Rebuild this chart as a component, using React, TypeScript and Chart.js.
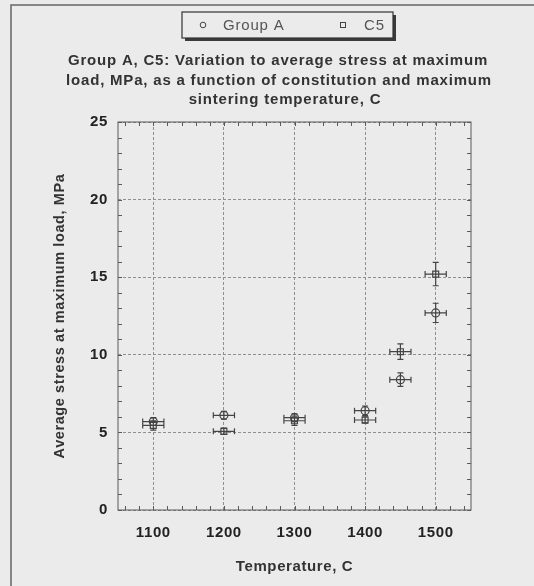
import React, { useEffect, useRef } from "react";
import { Chart, registerables } from "chart.js";

Chart.register(...registerables);

const temperatures = [1100, 1200, 1300, 1400, 1450, 1500];
const groupAStress = [5.7, 6.1, 5.95, 6.4, 8.4, 12.7];
const groupAError = [0.25, 0.25, 0.25, 0.3, 0.43, 0.62];
const c5Stress = [5.45, 5.07, 5.75, 5.8, 10.2, 15.2];
const c5Error = [0.3, 0.2, 0.3, 0.2, 0.5, 0.75];
const temperatureError = 15;
const xTickValues = [1100, 1200, 1300, 1400, 1500];
const yTickValues = [0, 5, 10, 15, 20, 25];
const seriesNames = ["Group A", "C5"];
const titleLines = [
  "Group A, C5: Variation to average stress at maximum",
  "load, MPa, as a function of constitution and maximum",
  "sintering temperature, C",
];
const xTitle = "Temperature, C";
const yTitle = "Average stress at maximum load, MPa";

const BG = "#ebebeb";
const INK = "#444444";
const FONT = '"Liberation Sans", Arial, sans-serif';

const errorsByDataset = [groupAError, c5Error];

const decorPlugin = {
  id: "decor",
  beforeDraw(chart: any) {
    const ctx = chart.ctx as CanvasRenderingContext2D;
    (ctx as any).letterSpacing = "0.6px";
    ctx.save();
    ctx.fillStyle = BG;
    ctx.fillRect(0, 0, chart.width, chart.height);
    // outer frame
    ctx.strokeStyle = "#666";
    ctx.lineWidth = 1.5;
    ctx.beginPath();
    ctx.moveTo(11, chart.height);
    ctx.lineTo(11, 5);
    ctx.lineTo(chart.width, 5);
    ctx.stroke();
    // legend box with shadow
    ctx.fillStyle = "#3a3a3a";
    ctx.fillRect(185, 15, 211, 26);
    ctx.fillStyle = BG;
    ctx.fillRect(182, 12, 211, 26);
    ctx.strokeStyle = "#333";
    ctx.lineWidth = 1.2;
    ctx.strokeRect(182, 12, 211, 26);
    // legend items
    ctx.strokeStyle = INK;
    ctx.lineWidth = 1;
    ctx.beginPath();
    ctx.arc(203, 25, 2.8, 0, Math.PI * 2);
    ctx.stroke();
    ctx.strokeRect(340.5, 22.5, 5, 5);
    ctx.fillStyle = "#555";
    (ctx as any).letterSpacing = "0.8px";
    ctx.font = `15px ${FONT}`;
    ctx.textAlign = "left";
    ctx.textBaseline = "middle";
    ctx.fillText(seriesNames[0], 223, 26);
    ctx.fillText(seriesNames[1], 364, 26);
    // title
    ctx.font = `bold 15px ${FONT}`;
    ctx.fillStyle = "#333";
    ctx.textAlign = "center";
    const cx = [278, 279, 285];
    titleLines.forEach((line, i) => {
      ctx.fillText(line, cx[i], 61 + i * 19.6);
    });
    ctx.restore();
  },
  beforeDatasetsDraw(chart: any) {
    const ctx = chart.ctx as CanvasRenderingContext2D;
    const a = chart.chartArea;
    const xs = chart.scales.x;
    const ys = chart.scales.y;
    ctx.save();
    ctx.strokeStyle = "#5a5a5a";
    ctx.lineWidth = 1;
    ctx.strokeRect(a.left, a.top, a.right - a.left, a.bottom - a.top);
    ctx.beginPath();
    const tl = 4;
    for (let v = Math.ceil(xs.min / 20) * 20; v <= xs.max; v += 20) {
      const px = Math.round(xs.getPixelForValue(v)) + 0.5;
      ctx.moveTo(px, a.bottom);
      ctx.lineTo(px, a.bottom - tl);
      ctx.moveTo(px, a.top);
      ctx.lineTo(px, a.top + tl);
    }
    for (let v = Math.ceil(ys.min); v <= ys.max; v += 1) {
      const py = Math.round(ys.getPixelForValue(v)) + 0.5;
      ctx.moveTo(a.left, py);
      ctx.lineTo(a.left + tl, py);
      ctx.moveTo(a.right, py);
      ctx.lineTo(a.right - tl, py);
    }
    ctx.stroke();
    // error bars
    ctx.strokeStyle = INK;
    ctx.lineWidth = 1.2;
    ctx.beginPath();
    const cap = 3;
    chart.data.datasets.forEach((ds: any, di: number) => {
      const errs = errorsByDataset[di];
      ds.data.forEach((p: any, i: number) => {
        const px = xs.getPixelForValue(p.x);
        const py = ys.getPixelForValue(p.y);
        const x1 = xs.getPixelForValue(p.x - temperatureError);
        const x2 = xs.getPixelForValue(p.x + temperatureError);
        const y1 = ys.getPixelForValue(p.y - errs[i]);
        const y2 = ys.getPixelForValue(p.y + errs[i]);
        ctx.moveTo(x1, py);
        ctx.lineTo(x2, py);
        ctx.moveTo(x1, py - cap);
        ctx.lineTo(x1, py + cap);
        ctx.moveTo(x2, py - cap);
        ctx.lineTo(x2, py + cap);
        ctx.moveTo(px, y1);
        ctx.lineTo(px, y2);
        ctx.moveTo(px - cap, y1);
        ctx.lineTo(px + cap, y1);
        ctx.moveTo(px - cap, y2);
        ctx.lineTo(px + cap, y2);
      });
    });
    ctx.stroke();
    ctx.restore();
  },
};

export default function App() {
  const ref = useRef<HTMLCanvasElement | null>(null);
  useEffect(() => {
    if (!ref.current) return;
    const chart = new Chart(ref.current, {
      type: "scatter",
      data: {
        datasets: [
          {
            label: seriesNames[0],
            data: temperatures.map((t, i) => ({ x: t, y: groupAStress[i] })),
            pointStyle: "circle",
            pointRadius: 4,
            borderColor: INK,
            backgroundColor: "rgba(0,0,0,0)",
            borderWidth: 1.2,
          },
          {
            label: seriesNames[1],
            data: temperatures.map((t, i) => ({ x: t, y: c5Stress[i] })),
            pointStyle: "rect",
            pointRadius: 4.2,
            borderColor: INK,
            backgroundColor: "rgba(0,0,0,0)",
            borderWidth: 1.2,
          },
        ],
      },
      options: {
        animation: false,
        responsive: false,
        devicePixelRatio: 1,
        layout: { padding: { top: 122, right: 63, left: 0, bottom: 0 } },
        plugins: {
          legend: { display: false },
          title: { display: false },
          tooltip: { enabled: false },
        },
        scales: {
          x: {
            type: "linear",
            min: 1050,
            max: 1550,
            afterBuildTicks: (s: any) => {
              s.ticks = xTickValues.map((v) => ({ value: v }));
            },
            afterFit: (s: any) => {
              s.height = 76;
            },
            ticks: {
              font: { family: FONT, size: 15, weight: "bold" },
              color: "#222",
              padding: 14,
              maxRotation: 0,
              callback: (v: any) => String(v),
            },
            grid: { color: "#8f8f8f", lineWidth: 1, drawTicks: false },
            border: { display: false, dash: [3, 2] },
            title: {
              display: true,
              text: xTitle,
              font: { family: FONT, size: 15, weight: "bold" },
              color: "#333",
              padding: { top: 0, bottom: 10 },
            },
          },
          y: {
            type: "linear",
            min: 0,
            max: 25,
            afterBuildTicks: (s: any) => {
              s.ticks = yTickValues.map((v) => ({ value: v }));
            },
            afterFit: (s: any) => {
              s.width = 118;
            },
            ticks: {
              font: { family: FONT, size: 15, weight: "bold" },
              color: "#222",
              padding: 10,
              callback: (v: any) => String(v),
            },
            grid: { color: "#8f8f8f", lineWidth: 1, drawTicks: false },
            border: { display: false, dash: [3, 2] },
            title: {
              display: true,
              text: yTitle,
              font: { family: FONT, size: 14.5, weight: "bold" },
              color: "#333",
              padding: { top: 51, bottom: 0 },
            },
          },
        },
      },
      plugins: [decorPlugin],
    } as any);
    return () => chart.destroy();
  }, []);
  return (
    <div style={{ position: "fixed", left: 0, top: 0, width: 534, height: 586, background: BG }}>
      <canvas ref={ref} width={534} height={586} style={{ display: "block" }} />
    </div>
  );
}
